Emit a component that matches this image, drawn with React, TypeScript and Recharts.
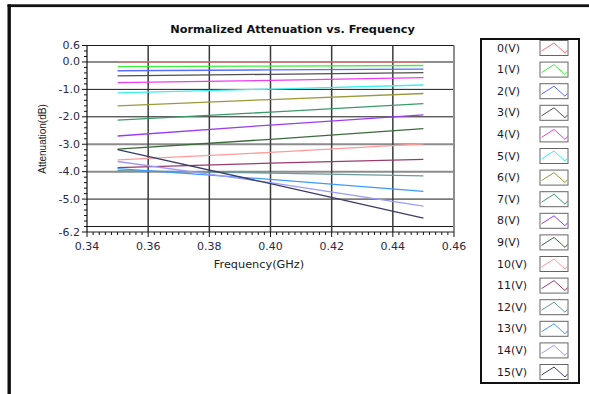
import React from 'react';
import { LineChart, Line, XAxis, YAxis, CartesianGrid, Legend } from 'recharts';

// ---- data ----
const FREQ = [0.35, 0.4, 0.45];
const V0 = [0.0, 0.0, 0.0];
const V1 = [-0.17, -0.15, -0.13];
const V2 = [-0.32, -0.29, -0.26];
const V3 = [-0.51, -0.45, -0.39];
const V4 = [-0.75, -0.67, -0.57];
const V5 = [-1.13, -0.99, -0.84];
const V6 = [-1.6, -1.37, -1.15];
const V7 = [-2.12, -1.83, -1.52];
const V8 = [-2.7, -2.3, -1.93];
const V9 = [-3.18, -2.82, -2.43];
const V10 = [-3.57, -3.3, -2.99];
const V11 = [-3.85, -3.69, -3.55];
const V12 = [-3.96, -4.05, -4.15];
const V13 = [-3.89, -4.28, -4.72];
const V14 = [-3.63, -4.4, -5.26];
const V15 = [-3.2, -4.44, -5.69];

const SERIES_VALUES = [V0, V1, V2, V3, V4, V5, V6, V7, V8, V9, V10, V11, V12, V13, V14, V15];
const SERIES_NAMES = [
  '0(V)', '1(V)', '2(V)', '3(V)', '4(V)', '5(V)', '6(V)', '7(V)',
  '8(V)', '9(V)', '10(V)', '11(V)', '12(V)', '13(V)', '14(V)', '15(V)',
];
const SERIES_COLORS = [
  '#ff6f6f', '#3cf03c', '#5a6cff', '#505050', '#f03cf0', '#3cf0f0', '#9a9a3c', '#3c9a6a',
  '#9a3cf0', '#3c6a3c', '#ff9a9a', '#9a3c6a', '#6a9a9a', '#3c9aff', '#9a9aff', '#3c3c6a',
];

const X_MAJOR = [0.34, 0.36, 0.38, 0.4, 0.42, 0.44, 0.46];
const Y_LABELS = [0.6, 0.0, -1.0, -2.0, -3.0, -4.0, -5.0, -6.2];

const X_MINOR_STEP = 0.002;
const Y_MINOR_STEP = 0.2;
const X_TICKS: number[] = [];
for (let k = 0; k <= 60; k++) X_TICKS.push(Math.round((0.34 + k * X_MINOR_STEP) * 1000) / 1000);
const Y_TICKS: number[] = [];
for (let k = 0; k <= 34; k++) Y_TICKS.push(Math.round((-6.2 + k * Y_MINOR_STEP) * 10) / 10);

const rows = FREQ.map((f, i) => {
  const r: Record<string, number> = { f };
  SERIES_VALUES.forEach((arr, s) => {
    r['s' + s] = arr[i];
  });
  return r;
});

const TICK_COLOR = '#2a2a44';
const FONT = '"DejaVu Sans", Verdana, sans-serif';

const isXMajor = (v: number) => X_MAJOR.some((m) => Math.abs(m - v) < 1e-6);
const isYLabel = (v: number) => Y_LABELS.some((m) => Math.abs(m - v) < 1e-6);

const XTick = (props: any) => {
  const { x, y, payload } = props;
  const v = payload.value as number;
  const major = isXMajor(v);
  return (
    <g>
      <line x1={x} x2={x} y1={y} y2={y + (major ? 5 : 3)} stroke="#111" strokeWidth={1} />
      {major && (
        <text x={x} y={y + 14} textAnchor="middle" dominantBaseline="central" fontSize={11} fontFamily={FONT} fill={TICK_COLOR}>
          {v.toFixed(2)}
        </text>
      )}
    </g>
  );
};

const YTick = (props: any) => {
  const { x, y, payload } = props;
  const v = payload.value as number;
  const lab = isYLabel(v);
  return (
    <g>
      <line x1={x - (lab ? 5 : 3)} x2={x} y1={y} y2={y} stroke="#111" strokeWidth={1} />
      {lab && (
        <text x={x - 7} y={y} textAnchor="end" dominantBaseline="central" fontSize={11} fontFamily={FONT} fill={TICK_COLOR}>
          {v.toFixed(1)}
        </text>
      )}
    </g>
  );
};

const LEG_W = 100;
const LEG_ROW = 21.6;

const LegendBox = () => (
  <svg width={LEG_W} height={346} style={{ display: 'block' }}>
    <rect x={1} y={1} width={LEG_W - 2} height={344} fill="#fff" stroke="#111" strokeWidth={2} />
    {SERIES_NAMES.map((name, i) => {
      const cy = 10 + i * LEG_ROW;
      return (
        <g key={name}>
          <text x={17} y={cy} dominantBaseline="central" fontSize={11} fontFamily={FONT} fill="#1a1a2e">
            {name}
          </text>
          <rect x={60} y={cy - 7.5} width={28} height={15} fill="#fff" stroke="#666" strokeWidth={1} />
          <polyline
            points={`${61.5},${cy + 3} ${74},${cy - 5} ${85},${cy + 5} ${87.5},${cy + 2}`}
            fill="none"
            stroke={SERIES_COLORS[i]}
            strokeWidth={1}
          />
        </g>
      );
    })}
  </svg>
);

export default function App() {
  return (
    <div style={{ position: 'absolute', left: 0, top: 0, width: 589, height: 394, background: '#fff', overflow: 'hidden' }}>
      <LineChart
        width={589}
        height={394}
        data={rows}
        margin={{ top: 45.5, right: 135, bottom: 132, left: 37 }}
      >
        <CartesianGrid horizontalValues={[0, -3, -4]} vertical={false} stroke="#8c8c8c" strokeWidth={2} />
        <CartesianGrid horizontalValues={[0.6, -1, -2, -5, -6]} vertical={false} stroke="#1a1a1a" strokeWidth={1} />
        <CartesianGrid verticalValues={[0.36, 0.38, 0.4, 0.42, 0.44]} horizontal={false} stroke="#3a3a3a" strokeWidth={1.5} />
        <CartesianGrid verticalValues={[0.46]} horizontal={false} stroke="#8c8c8c" strokeWidth={2} />
        <XAxis
          type="number"
          dataKey="f"
          domain={[0.34, 0.46]}
          ticks={X_TICKS}
          interval={0}
          tickSize={0}
          tickMargin={0}
          tickLine={false}
          tick={<XTick />}
          height={30}
          axisLine={{ stroke: '#222', strokeWidth: 1.2 }}
          allowDataOverflow
        />
        <YAxis
          type="number"
          domain={[-6.2, 0.6]}
          ticks={Y_TICKS}
          interval={0}
          tickSize={0}
          tickMargin={0}
          tickLine={false}
          tick={<YTick />}
          width={50}
          axisLine={{ stroke: '#111', strokeWidth: 1.2 }}
          allowDataOverflow
        />
        {SERIES_NAMES.map((name, i) => (
          <Line
            key={name}
            type="linear"
            dataKey={'s' + i}
            name={name}
            stroke={SERIES_COLORS[i]}
            strokeWidth={1.3}
            dot={false}
            activeDot={false}
            isAnimationActive={false}
          />
        ))}
        <Legend
          layout="horizontal"
          verticalAlign="middle"
          align="center"
          content={<LegendBox />}
          wrapperStyle={{ left: 480, top: 38, width: LEG_W, height: 346 }}
        />
      </LineChart>
      <svg
        width={589}
        height={394}
        style={{ position: 'absolute', left: 0, top: 0, pointerEvents: 'none' }}
      >
        <rect x={7.5} y={4.3} width={582} height={2.8} fill="#111" />
        <rect x={7.5} y={4.3} width={3.4} height={390} fill="#111" />
        <text x={292.5} y={33} textAnchor="middle" fontSize={11.3} fontWeight="bold" fontFamily={FONT} fill="#111">
          Normalized Attenuation vs. Frequency
        </text>
        <text x={259} y={268} textAnchor="middle" fontSize={11.3} fontFamily={FONT} fill="#222">
          Frequency(GHz)
        </text>
        <text
          x={0}
          y={0}
          transform="translate(46 139) rotate(-90)"
          textAnchor="middle"
          fontSize={10}
          fontFamily='"Liberation Sans", Arial, sans-serif'
          fill="#222"
        >
          Attenuation(dB)
        </text>
      </svg>
    </div>
  );
}
